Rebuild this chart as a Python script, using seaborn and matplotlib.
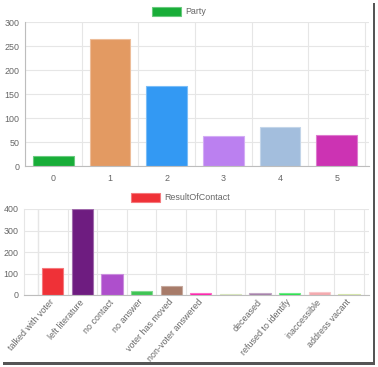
import matplotlib
matplotlib.use("Agg")
import matplotlib.pyplot as plt
import seaborn as sns
import pandas as pd
from matplotlib.patches import Rectangle
from matplotlib.colors import to_rgb

# data
party_labels = ["0", "1", "2", "3", "4", "5"]
party_counts = [20, 264, 166, 63, 81, 65]
party_colors = ["#18ad38", "#e39a62", "#3399f3", "#bb80f0", "#a3bedd", "#cc33b3"]

contact_labels = ["talked with voter", "left literature", "no contact", "no answer",
                  "voter has moved", "non-voter answered", "", "deceased",
                  "refused to identify", "inaccessible", "address vacant"]
contact_counts = [127, 399, 96, 20, 42, 10, 6, 7, 9, 15, 6]
contact_colors = ["#ef3137", "#6e1c80", "#ae4fcc", "#3ec453", "#a77b69", "#ff1aaa",
                  "#c6dc9c", "#a27aa8", "#22e046", "#f4a9ae", "#c2dc80"]

W, H = 378, 367
TXT = "#666666"
GRID = "#e6e6e6"
AXIS = "#bdbdbd"

sns.set_style("white")
plt.rcParams["font.family"] = ["Liberation Sans", "DejaVu Sans"]
plt.rcParams["font.size"] = 6.4

fig = plt.figure(figsize=(W / 100, H / 100), dpi=100)

def px_axes(left, top, right, bottom):
    return fig.add_axes([left / W, 1 - bottom / H, (right - left) / W, (bottom - top) / H])

def lighten(c, f=0.35):
    r, g, b = to_rgb(c)
    return (r + (1 - r) * f, g + (1 - g) * f, b + (1 - b) * f)

def legend_box(x, y, color, label):
    fig.add_artist(Rectangle((x / W, 1 - (y + 9) / H), 29 / W, 9 / H, transform=fig.transFigure,
                             facecolor=color, edgecolor=lighten(color), linewidth=0.8))
    fig.text((x + 33) / W, 1 - (y + 4.5) / H, label, color=TXT, va="center", ha="left")

def style_axes(ax, n, ymax, ystep, tick_len, pad):
    ax.set_ylim(0, ymax)
    ax.set_yticks(range(0, ymax + 1, ystep))
    ax.set_xticks([i - 0.5 for i in range(n + 1)], minor=True)
    ax.grid(True, axis="y", color=GRID, linewidth=0.8)
    ax.grid(True, axis="x", which="minor", color=GRID, linewidth=0.8)
    ax.set_axisbelow(True)
    ax.tick_params(axis="x", which="major", length=0, pad=pad, colors=TXT)
    ax.tick_params(axis="x", which="minor", length=tick_len, color=GRID, width=0.8)
    ax.tick_params(axis="y", length=2.5, color=GRID, pad=1.5, colors=TXT)
    ax.set_xlabel("")
    ax.set_ylabel("")
    for s in ["top", "right"]:
        ax.spines[s].set_visible(False)
    ax.spines["bottom"].set_color(AXIS)
    ax.spines["bottom"].set_linewidth(0.8)
    for p, c in zip(ax.patches, ax._bar_colors):
        p.set_edgecolor(lighten(c))
        p.set_linewidth(0.8)

# top chart: Party
ax1 = px_axes(25, 22, 369, 166)
df1 = pd.DataFrame({"party": party_labels, "count": party_counts})
sns.barplot(data=df1, x="party", y="count", hue="party", palette=party_colors,
            width=0.72, saturation=1, legend=False, ax=ax1)
ax1._bar_colors = party_colors
ax1.set_xlim(-0.5, 5.57)
style_axes(ax1, 6, 300, 50, 4.3, 5.5)
ax1.spines["left"].set_color(AXIS)
ax1.spines["left"].set_linewidth(0.8)
legend_box(152, 7, party_colors[0], "Party")

# bottom chart: ResultOfContact
ax2 = px_axes(24, 209, 369, 295)
df2 = pd.DataFrame({"result": contact_labels, "count": contact_counts})
sns.barplot(data=df2, x="result", y="count", hue="result", palette=contact_colors,
            width=0.72, saturation=1, legend=False, ax=ax2)
ax2._bar_colors = contact_colors
ax2.set_xlim(-0.973, 10.68)
style_axes(ax2, 11, 400, 100, 3.6, 4)
ax2.spines["left"].set_color(GRID)
ax2.axvline(-0.5, color=AXIS, linewidth=0.8, zorder=0.5)
plt.setp(ax2.get_xticklabels(), rotation=49, ha="right", rotation_mode="anchor", va="center")
legend_box(131, 193, contact_colors[0], "ResultOfContact")

# screenshot drop shadow on the right and bottom edges
fig.add_artist(Rectangle((372.5 / W, 1 - 364 / H), 2.5 / W, 361 / H, transform=fig.transFigure,
                         facecolor="#555555", edgecolor="none"))
fig.add_artist(Rectangle((3 / W, 1 - 364.5 / H), 372 / W, 2.5 / H, transform=fig.transFigure,
                         facecolor="#555555", edgecolor="none"))

fig.savefig("out.png", dpi=100)
